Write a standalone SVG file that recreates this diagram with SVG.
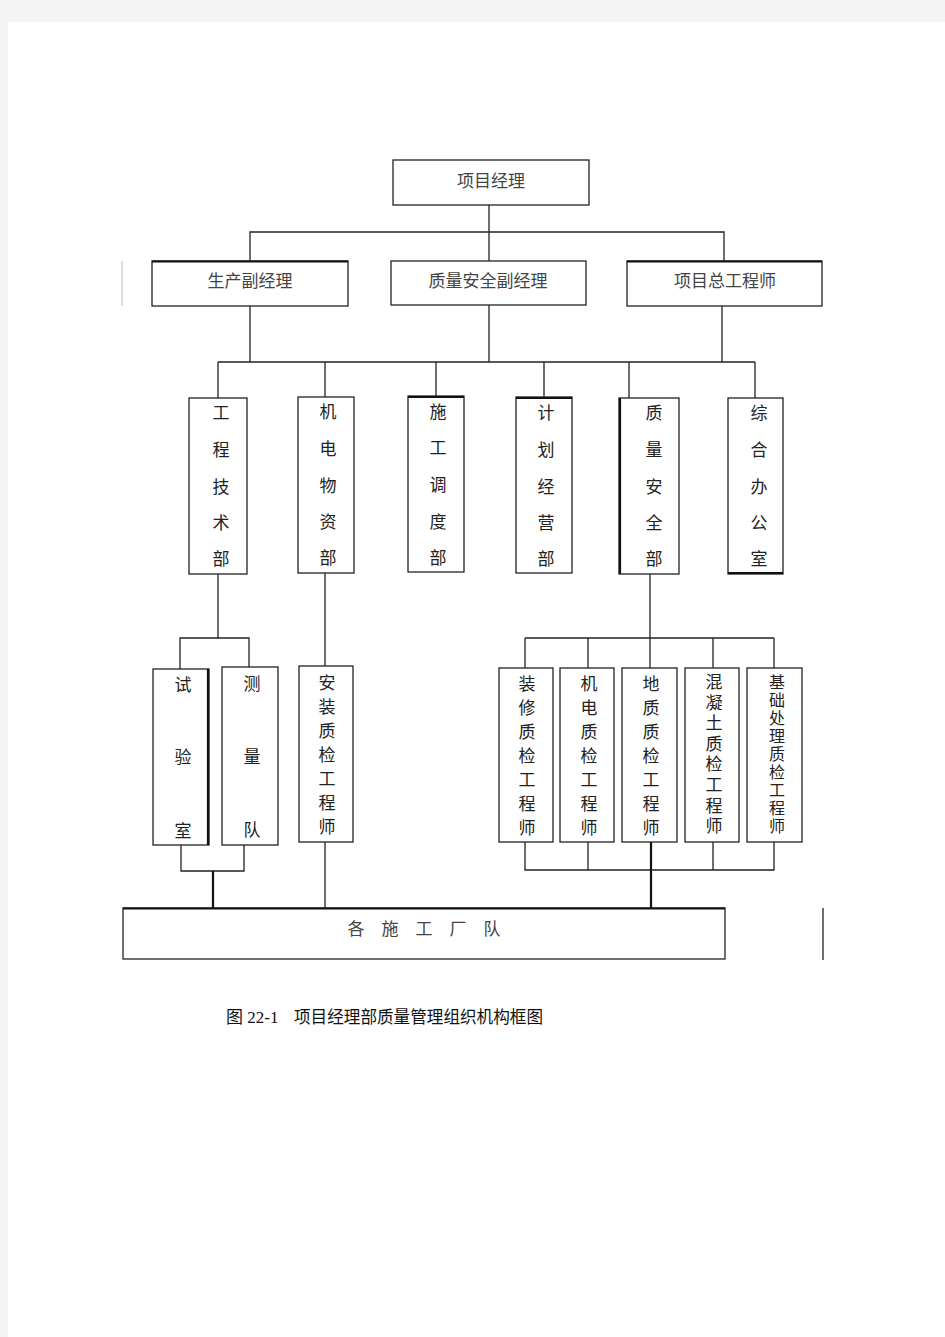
<svg xmlns="http://www.w3.org/2000/svg" width="945" height="1337" viewBox="0 0 945 1337">
<style>
.box{fill:#fff;stroke:#222;stroke-width:1.3}
.ln{stroke:#222;stroke-width:1.3;fill:none}
.thk{stroke:#111;stroke-width:2.2;fill:none}
.t{font-family:"Noto Sans CJK SC","Liberation Sans",sans-serif;font-size:17px;fill:#222;text-anchor:middle;dominant-baseline:central;transform:translateY(-1px)}
.v{font-family:"Noto Sans CJK SC","Liberation Sans",sans-serif;fill:#222;writing-mode:vertical-rl;text-anchor:start}
.tg{fill:#444}
.cap{font-family:"Liberation Serif","Noto Sans CJK SC",serif;font-size:17px;fill:#111}
</style>
<rect x="0" y="0" width="945" height="1337" fill="#f3f3f3"/>
<rect x="8" y="22" width="937" height="1315" fill="#fff"/>
<g id="connectors">
<line class="ln" x1="489" y1="205" x2="489" y2="232"/>
<polyline class="ln" points="250,261 250,232 724,232 724,261"/>
<line class="ln" x1="489" y1="232" x2="489" y2="261"/>
<line class="ln" x1="250" y1="306" x2="250" y2="362"/>
<line class="ln" x1="489" y1="305" x2="489" y2="362"/>
<line class="ln" x1="722" y1="306" x2="722" y2="362"/>
<line class="ln" x1="218" y1="362" x2="755" y2="362"/>
<line class="ln" x1="218" y1="362" x2="218" y2="398"/>
<line class="ln" x1="325" y1="362" x2="325" y2="397"/>
<line class="ln" x1="436" y1="362" x2="436" y2="396"/>
<line class="ln" x1="544" y1="362" x2="544" y2="397"/>
<line class="ln" x1="629" y1="362" x2="629" y2="398"/>
<line class="ln" x1="755" y1="362" x2="755" y2="398"/>
<line class="ln" x1="218" y1="574" x2="218" y2="638"/>
<polyline class="ln" points="180,669 180,638 249,638 249,667"/>
<line class="ln" x1="325" y1="573" x2="325" y2="666"/>
<line class="ln" x1="650" y1="574" x2="650" y2="638"/>
<line class="ln" x1="525" y1="638" x2="774" y2="638"/>
<line class="ln" x1="525" y1="638" x2="525" y2="668"/>
<line class="ln" x1="588" y1="638" x2="588" y2="668"/>
<line class="ln" x1="650" y1="638" x2="650" y2="668"/>
<line class="ln" x1="713" y1="638" x2="713" y2="668"/>
<line class="ln" x1="774" y1="638" x2="774" y2="668"/>
<polyline class="ln" points="181,845 181,871 244,871 244,845"/>
<line class="thk" x1="213" y1="871" x2="213" y2="908"/>
<line class="ln" x1="325" y1="842" x2="325" y2="908"/>
<polyline class="ln" points="525,842 525,870 774,870 774,842"/>
<line class="ln" x1="588" y1="842" x2="588" y2="870"/>
<line class="ln" x1="713" y1="842" x2="713" y2="870"/>
<line class="thk" x1="651" y1="842" x2="651" y2="908"/>
<line stroke="#bbb" stroke-width="1" x1="122" y1="261" x2="122" y2="306"/>
<line stroke="#222" stroke-width="1.3" x1="823" y1="908" x2="823" y2="960"/>
</g>
<g id="n-pm"><rect class="box" x="393" y="160" width="196" height="45"/><text class="t tg" x="491" y="180">项目经理</text></g>
<g id="n-prod"><rect class="box" x="152" y="261" width="196" height="45"/><line class="thk" x1="152" y1="261.5" x2="348" y2="261.5"/><text class="t tg" x="250" y="280">生产副经理</text></g>
<g id="n-qs"><rect class="box" x="391" y="261" width="195" height="44"/><text class="t tg" x="488" y="280">质量安全副经理</text></g>
<g id="n-ce"><rect class="box" x="627" y="261" width="195" height="45"/><line class="thk" x1="627" y1="261.5" x2="822" y2="261.5"/><text class="t tg" x="725" y="280">项目总工程师</text></g>

<g id="n-eng"><rect class="box" x="189" y="398" width="58" height="176"/>
<text class="t" x="221"><tspan x="221" y="412">工</tspan><tspan x="221" y="449">程</tspan><tspan x="221" y="486">技</tspan><tspan x="221" y="522">术</tspan><tspan x="221" y="558">部</tspan></text></g>
<g id="n-mech"><rect class="box" x="298" y="397" width="56" height="176"/>
<text class="t" x="328"><tspan x="328" y="411">机</tspan><tspan x="328" y="448">电</tspan><tspan x="328" y="485">物</tspan><tspan x="328" y="521">资</tspan><tspan x="328" y="557">部</tspan></text></g>
<g id="n-sched"><rect class="box" x="408" y="396" width="56" height="176"/><line class="thk" x1="408" y1="397" x2="464" y2="397"/>
<text class="t" x="438"><tspan x="438" y="411">施</tspan><tspan x="438" y="447">工</tspan><tspan x="438" y="484">调</tspan><tspan x="438" y="521">度</tspan><tspan x="438" y="557">部</tspan></text></g>
<g id="n-plan"><rect class="box" x="516" y="397" width="56" height="176"/><line class="thk" x1="516" y1="398" x2="572" y2="398"/>
<text class="t" x="546"><tspan x="546" y="412">计</tspan><tspan x="546" y="449">划</tspan><tspan x="546" y="486">经</tspan><tspan x="546" y="522">营</tspan><tspan x="546" y="558">部</tspan></text></g>
<g id="n-qsd"><rect class="box" x="619" y="398" width="60" height="176"/><line class="thk" x1="620" y1="398" x2="620" y2="574"/>
<text class="t" x="654"><tspan x="654" y="412">质</tspan><tspan x="654" y="449">量</tspan><tspan x="654" y="486">安</tspan><tspan x="654" y="522">全</tspan><tspan x="654" y="558">部</tspan></text></g>
<g id="n-office"><rect class="box" x="728" y="398" width="55" height="176"/><line class="thk" x1="728" y1="573" x2="783" y2="573"/>
<text class="t" x="759"><tspan x="759" y="412">综</tspan><tspan x="759" y="449">合</tspan><tspan x="759" y="486">办</tspan><tspan x="759" y="522">公</tspan><tspan x="759" y="558">室</tspan></text></g>

<g id="n-lab"><rect class="box" x="153" y="669" width="56" height="176"/><line class="thk" x1="208" y1="669" x2="208" y2="845"/>
<text class="t" x="183"><tspan x="183" y="684">试</tspan><tspan x="183" y="756">验</tspan><tspan x="183" y="830">室</tspan></text></g>
<g id="n-survey"><rect class="box" x="222" y="667" width="56" height="178"/>
<text class="t" x="252"><tspan x="252" y="683">测</tspan><tspan x="252" y="756">量</tspan><tspan x="252" y="829">队</tspan></text></g>
<g id="n-inst"><rect class="box" x="299" y="666" width="54" height="176"/>
<text class="t" x="327"><tspan x="327" y="682">安</tspan><tspan x="327" y="706">装</tspan><tspan x="327" y="730">质</tspan><tspan x="327" y="754">检</tspan><tspan x="327" y="778">工</tspan><tspan x="327" y="802">程</tspan><tspan x="327" y="826">师</tspan></text></g>

<g id="n-deco"><rect class="box" x="499" y="668" width="54" height="174"/>
<text class="t" x="527"><tspan x="527" y="683">装</tspan><tspan x="527" y="707">修</tspan><tspan x="527" y="731">质</tspan><tspan x="527" y="755">检</tspan><tspan x="527" y="779">工</tspan><tspan x="527" y="803">程</tspan><tspan x="527" y="827">师</tspan></text></g>
<g id="n-elec"><rect class="box" x="560" y="668" width="54" height="174"/>
<text class="t" x="589"><tspan x="589" y="683">机</tspan><tspan x="589" y="707">电</tspan><tspan x="589" y="731">质</tspan><tspan x="589" y="755">检</tspan><tspan x="589" y="779">工</tspan><tspan x="589" y="803">程</tspan><tspan x="589" y="827">师</tspan></text></g>
<g id="n-geo"><rect class="box" x="622" y="668" width="55" height="174"/>
<text class="t" x="651"><tspan x="651" y="683">地</tspan><tspan x="651" y="707">质</tspan><tspan x="651" y="731">质</tspan><tspan x="651" y="755">检</tspan><tspan x="651" y="779">工</tspan><tspan x="651" y="803">程</tspan><tspan x="651" y="827">师</tspan></text></g>
<g id="n-conc"><rect class="box" x="685" y="668" width="54" height="174"/>
<text class="v" x="714" y="673" font-size="17" letter-spacing="3.6">混凝土质检工程师</text></g>
<g id="n-found"><rect class="box" x="747" y="668" width="55" height="174"/>
<text class="v" x="777" y="674" font-size="16" letter-spacing="2">基础处理质检工程师</text></g>

<g id="n-teams"><rect class="box" x="123" y="908" width="602" height="51"/><line class="thk" x1="123" y1="908.5" x2="725" y2="908.5"/>
<text class="t tg" x="424"><tspan x="356" y="928">各</tspan><tspan x="390" y="928">施</tspan><tspan x="424" y="928">工</tspan><tspan x="458" y="928">厂</tspan><tspan x="492" y="928">队</tspan></text></g>

<g id="caption"><text class="cap" x="226" y="1023">图 22-1</text><text class="cap" x="294" y="1023" textLength="249" lengthAdjust="spacingAndGlyphs" font-family="Noto Sans CJK SC, sans-serif">项目经理部质量管理组织机构框图</text></g>
</svg>
